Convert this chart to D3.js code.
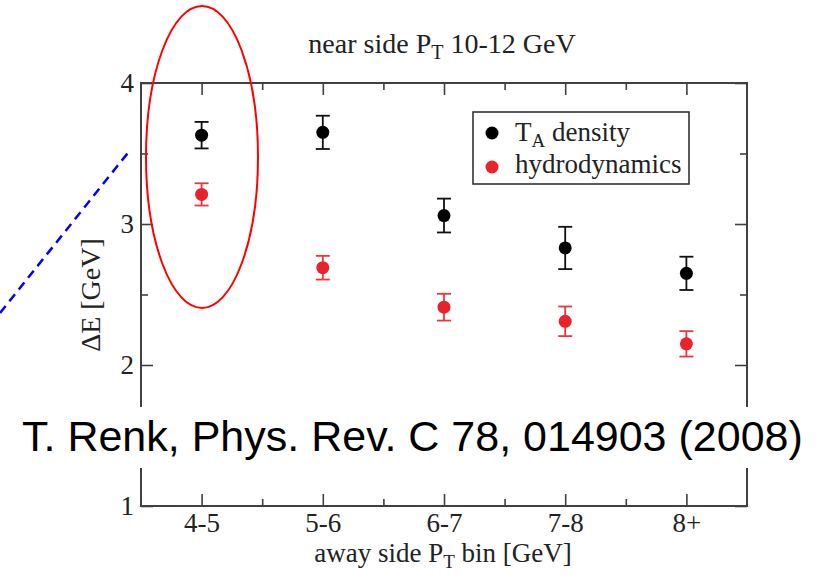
<!DOCTYPE html>
<html>
<head>
<meta charset="utf-8">
<script src="https://cdn.jsdelivr.net/npm/d3@7"></script>
<style>
  body { margin: 0; background: #fff; }
  svg { display: block; }
</style>
</head>
<body>
<svg id="chart" width="823" height="578"></svg>
<script>
// data
var categories = ["4-5", "5-6", "6-7", "7-8", "8+"];
var taDensity = [3.63, 3.65, 3.06, 2.83, 2.65];
var taErr = [0.094, 0.118, 0.12, 0.15, 0.118];
var hydro = [3.21, 2.69, 2.41, 2.31, 2.15];
var hydroErr = [0.079, 0.084, 0.095, 0.105, 0.09];
var yTicks = [1, 2, 3, 4];
var yMinor = [1.5, 2.5, 3.5];

var serif = "'Liberation Serif', 'Times New Roman', serif";
var frameCol = "#404040";

var svg = d3.select("#chart");
var L = 141, R = 747, T = 83, B = 506;

var x = d3.scaleLinear().domain([0.5, 5.5]).range([L, R]);
var y = d3.scaleLinear().domain([1, 4]).range([B, T]);
var xMajor = d3.range(1, categories.length + 1);
var xMinor = d3.range(1.5, categories.length, 1);

function styleAxis(g) {
  g.select(".domain").remove();
  g.selectAll(".tick line").attr("stroke", frameCol).attr("stroke-width", 1.6);
  g.selectAll(".tick text").attr("fill", "#222").style("font-family", serif).style("font-size", "27px");
}

// bottom axis
svg.append("g").attr("transform", "translate(0," + B + ")")
  .call(d3.axisBottom(x).tickValues(xMajor).tickSize(-12).tickPadding(7)
    .tickFormat(function(d) { return categories[d - 1]; }))
  .call(styleAxis);
svg.append("g").attr("transform", "translate(0," + B + ")")
  .call(d3.axisBottom(x).tickValues(xMinor).tickSize(-7).tickFormat(""))
  .call(styleAxis);
// top axis
svg.append("g").attr("transform", "translate(0," + T + ")")
  .call(d3.axisTop(x).tickValues(xMajor).tickSize(-12).tickFormat(""))
  .call(styleAxis);
svg.append("g").attr("transform", "translate(0," + T + ")")
  .call(d3.axisTop(x).tickValues(xMinor).tickSize(-7).tickFormat(""))
  .call(styleAxis);
// left axis
svg.append("g").attr("transform", "translate(" + L + ",0)")
  .call(d3.axisLeft(y).tickValues(yTicks).tickSize(-12).tickPadding(7).tickFormat(d3.format("d")))
  .call(styleAxis);
svg.append("g").attr("transform", "translate(" + L + ",0)")
  .call(d3.axisLeft(y).tickValues(yMinor).tickSize(-7).tickFormat(""))
  .call(styleAxis);
// right axis
svg.append("g").attr("transform", "translate(" + R + ",0)")
  .call(d3.axisRight(y).tickValues(yTicks).tickSize(-12).tickFormat(""))
  .call(styleAxis);
svg.append("g").attr("transform", "translate(" + R + ",0)")
  .call(d3.axisRight(y).tickValues(yMinor).tickSize(-7).tickFormat(""))
  .call(styleAxis);

svg.append("rect")
  .attr("x", L).attr("y", T).attr("width", R - L).attr("height", B - T)
  .attr("fill", "none").attr("stroke", frameCol).attr("stroke-width", 2);

// series with error bars
function drawSeries(vals, errs, col, barCol) {
  var g = svg.append("g");
  var pts = vals.map(function(v, i) { return { i: i + 1, v: v, e: errs[i] }; });
  g.selectAll("line.err").data(pts).enter().append("line")
    .attr("x1", function(d) { return x(d.i); }).attr("x2", function(d) { return x(d.i); })
    .attr("y1", function(d) { return y(d.v + d.e); }).attr("y2", function(d) { return y(d.v - d.e); })
    .attr("stroke", barCol).attr("stroke-width", 1.8);
  [1, -1].forEach(function(s) {
    g.selectAll(null).data(pts).enter().append("line")
      .attr("x1", function(d) { return x(d.i) - 7; }).attr("x2", function(d) { return x(d.i) + 7; })
      .attr("y1", function(d) { return y(d.v + s * d.e); }).attr("y2", function(d) { return y(d.v + s * d.e); })
      .attr("stroke", barCol).attr("stroke-width", 1.8);
  });
  g.selectAll("circle").data(pts).enter().append("circle")
    .attr("cx", function(d) { return x(d.i); }).attr("cy", function(d) { return y(d.v); })
    .attr("r", 6.5).attr("fill", col);
}
drawSeries(taDensity, taErr, "#000", "#111");
drawSeries(hydro, hydroErr, "#e8232b", "#e8383e");

// legend
var lg = svg.append("g");
lg.append("rect").attr("x", 473).attr("y", 112).attr("width", 216).attr("height", 72)
  .attr("fill", "#fff").attr("stroke", "#333").attr("stroke-width", 1.6);
lg.append("circle").attr("cx", 492).attr("cy", 133).attr("r", 6.5).attr("fill", "#000");
lg.append("circle").attr("cx", 492).attr("cy", 167).attr("r", 6.5).attr("fill", "#e8232b");
var t1 = lg.append("text").attr("x", 515).attr("y", 141)
  .style("font-family", serif).style("font-size", "27px").attr("fill", "#222");
t1.append("tspan").text("T");
t1.append("tspan").attr("dy", 6).style("font-size", "19px").text("A");
t1.append("tspan").attr("dy", -6).text(" density");
lg.append("text").attr("x", 515).attr("y", 173)
  .style("font-family", serif).style("font-size", "27px").attr("fill", "#222")
  .text("hydrodynamics");

// title
var tt = svg.append("text").attr("x", 442).attr("y", 53).attr("text-anchor", "middle")
  .style("font-family", serif).style("font-size", "28px").attr("fill", "#222");
tt.append("tspan").text("near side P");
tt.append("tspan").attr("dy", 6).style("font-size", "20px").text("T");
tt.append("tspan").attr("dy", -6).text(" 10-12 GeV");

// x label
var xl = svg.append("text").attr("x", 443).attr("y", 562).attr("text-anchor", "middle")
  .style("font-family", serif).style("font-size", "27px").attr("fill", "#222");
xl.append("tspan").text("away side P");
xl.append("tspan").attr("dy", 6).style("font-size", "19px").text("T");
xl.append("tspan").attr("dy", -6).text(" bin [GeV]");

// y label
svg.append("text").attr("transform", "translate(100,295) rotate(-90)")
  .attr("text-anchor", "middle")
  .style("font-family", serif).style("font-size", "28px").attr("fill", "#222")
  .text("\u0394E [GeV]");

// annotation: red ellipse and blue dashed line
svg.append("ellipse").attr("cx", 202).attr("cy", 157).attr("rx", 56).attr("ry", 151)
  .attr("fill", "none").attr("stroke", "#ff0000").attr("stroke-width", 2);
svg.append("line").attr("x1", 0).attr("y1", 313).attr("x2", 131).attr("y2", 149)
  .attr("stroke", "#0000ff").attr("stroke-width", 2.5).attr("stroke-dasharray", "9,6");

// citation over the plot
svg.append("rect").attr("x", 18).attr("y", 407).attr("width", 790).attr("height", 61).attr("fill", "#fff");
svg.append("text").attr("x", 22).attr("y", 451)
  .style("font-family", "'Liberation Sans', Arial, sans-serif").style("font-size", "43px").attr("fill", "#000")
  .text("T. Renk, Phys. Rev. C 78, 014903 (2008)");
</script>
</body>
</html>
